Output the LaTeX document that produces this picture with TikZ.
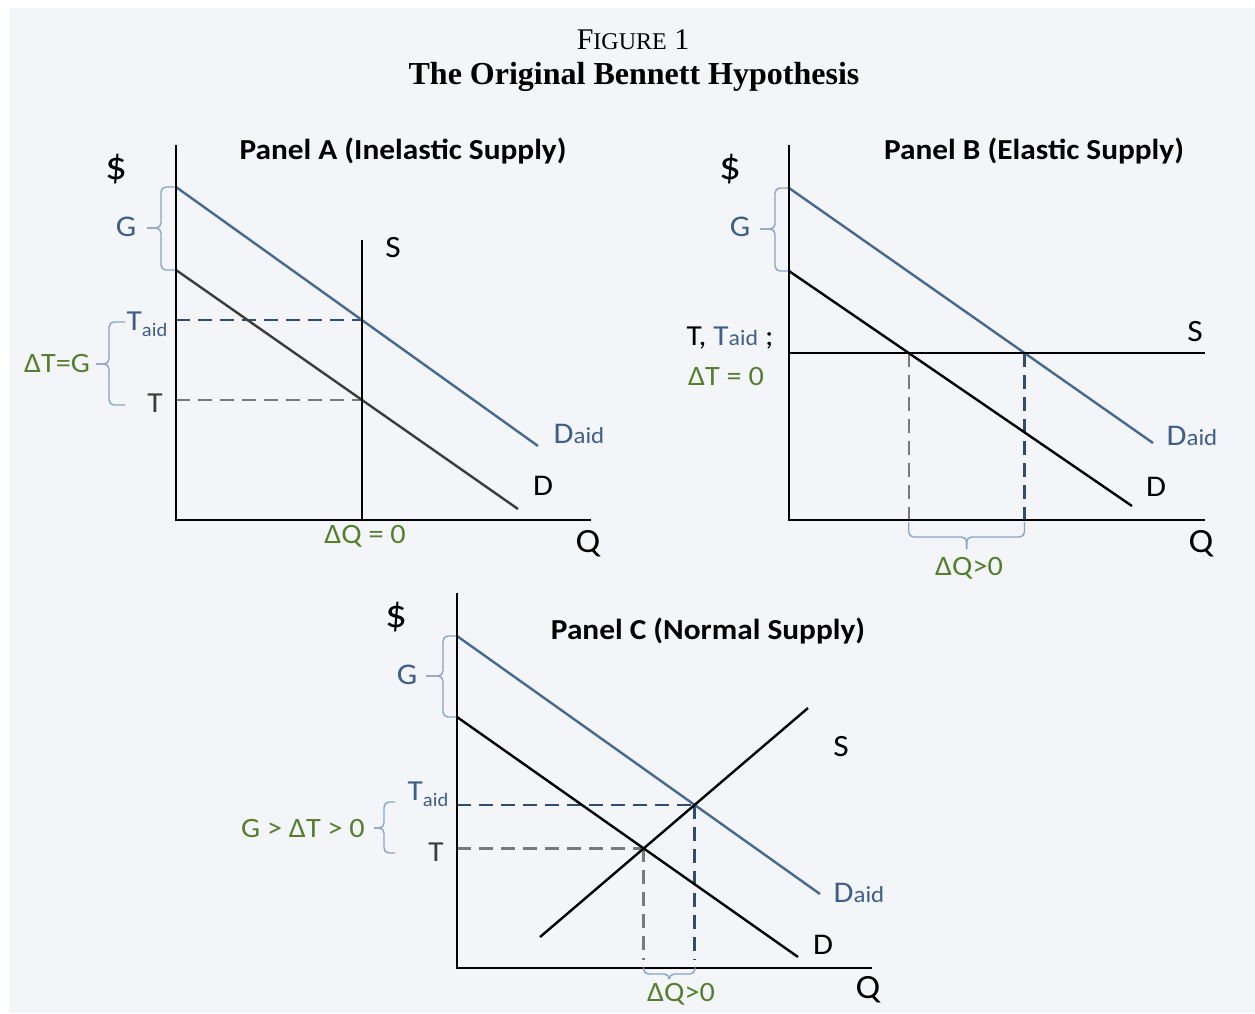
\documentclass[tikz,border=0pt]{standalone}
\usepackage{fontspec}
\setmainfont{Liberation Serif}
\newfontfamily\carl[FakeStretch=1.08]{Carlito}
\usetikzlibrary{calc}
\definecolor{bgcol}{HTML}{F3F5F8}
\definecolor{aidline}{HTML}{46698F}
\definecolor{aiddash}{HTML}{2F4D70}
\definecolor{lblue}{HTML}{3E5F87}
\definecolor{bracecol}{HTML}{8AA4C4}
\definecolor{grn}{HTML}{557F2F}
\definecolor{dgray}{HTML}{3C3C3C}
\definecolor{tgray}{HTML}{7A7A7A}
\newcommand\fsz[1]{\fontsize{#1}{#1}\selectfont}
% vertical brace: end x, body x, tip x, y1, ymid, y2
\newcommand\vbrace[6]{%
  \draw[bracestyle] (#1,#4) -- (#2,#4) -- (#2,#5) -- (#3,#5);
  \draw[bracestyle] (#1,#6) -- (#2,#6) -- (#2,#5) -- (#3,#5);}
% horizontal brace: end y, body y, tip y, x1, xmid, x2
\newcommand\hbrace[6]{%
  \draw[bracestyle] (#4,#1) -- (#4,#2) -- (#5,#2) -- (#5,#3);
  \draw[bracestyle] (#6,#1) -- (#6,#2) -- (#5,#2) -- (#5,#3);}
\begin{document}
\begin{tikzpicture}[x=1pt,y=-1pt,
  axisline/.style={line width=2.8pt,black},
  dline/.style={line width=2.4pt,black},
  aline/.style={line width=2.4pt,aidline},
  sline/.style={line width=2.4pt,black},
  tdash/.style={line width=2.4pt,tgray,dash pattern=on 14pt off 8pt},
  tadash/.style={line width=2.4pt,aiddash,dash pattern=on 14pt off 8pt},
  bracestyle/.style={line width=1.4pt,bracecol,rounded corners=5pt},
  lbl/.style={font=\carl\fsz{29},inner sep=0pt},
  slbl/.style={font=\carl\fsz{31},inner sep=0pt},
  biglbl/.style={font=\carl\fsz{34},inner sep=0pt},
  dollar/.style={font=\carl\fsz{40},inner sep=0pt},
  ptitle/.style={font=\carl\bfseries\fsz{29},inner sep=0pt},
  glbl/.style={font=\carl\fsz{28},inner sep=0pt,text=grn},
]
\useasboundingbox (0,0) rectangle (1255,1013);
\fill[white] (0,0) rectangle (1255,1013);
\fill[bgcol] (9,8) rectangle (1255,1013);

% Title
\node[inner sep=0pt] (fig) at (633,40) {\fsz{30}F\fsz{24}IGURE\fsz{30} 1};
\node[inner sep=0pt,font=\bfseries\fsz{32}] (title) at (634,77) {The Original Bennett Hypothesis};

% ================= Panel A =================
\coordinate (Ao) at (176,520);
\coordinate (Ay) at (176,145);
\coordinate (Ax) at (591,520);
\coordinate (Aa1) at (176,187);
\coordinate (Aa2) at (538,446);
\coordinate (Ad1) at (176,270);
\coordinate (Ad2) at (518,509);
\coordinate (As1) at (362,240);
\coordinate (As2) at (362,520);
\coordinate (Aia) at (intersection of Aa1--Aa2 and As1--As2);
\coordinate (Aid) at (intersection of Ad1--Ad2 and As1--As2);
\draw[tadash] (Ao |- Aia) -- (Aia);
\draw[tdash] (Ao |- Aid) -- (Aid);
\draw[line width=2.4pt,dgray] (Ad1) -- (Ad2);
\draw[aline] (Aa1) -- (Aa2);
\draw[sline] (As1) -- (As2);
\draw[axisline] (Ay) -- (Ao) -- (Ax);
\vbrace{175}{161}{147}{187}{228}{270}
\vbrace{125}{109}{96}{322}{364}{405}
\node[dollar] (Adol) at (116,169) {\$};
\node[ptitle] (Apt) at (403,151) {Panel A (Inelastic Supply)};
\node[lbl,text=lblue,font=\carl\fsz{30}] (AG) at (126,227) {G};
\node[slbl] (AS) at (393,248) {S};
\node[lbl,text=lblue] (ATa) at (147,324) {T\raisebox{-6pt}{\fsz{19}aid}};
\node[glbl] (AdT) at (57,364) {ΔT=G};
\node[lbl,text=dgray] (AT) at (155,403) {T};
\node[lbl,text=lblue] (ADa) at (579,434) {{\fsz{30}D}{\fsz{23}aid}};
\node[lbl,font=\carl\fsz{30}] (AD) at (543,486) {D};
\node[glbl] (AdQ) at (365,536) {ΔQ = 0};
\node[biglbl] (AQ) at (588,544) {Q};

% ================= Panel B =================
\coordinate (Bo) at (789,520);
\coordinate (By) at (789,145);
\coordinate (Bx) at (1205,520);
\coordinate (Ba1) at (789,188);
\coordinate (Ba2) at (1153,443);
\coordinate (Bd1) at (789,271);
\coordinate (Bd2) at (1132,506);
\coordinate (Bs1) at (789,353);
\coordinate (Bs2) at (1205,353);
\coordinate (Bia) at (intersection of Ba1--Ba2 and Bs1--Bs2);
\coordinate (Bid) at (intersection of Bd1--Bd2 and Bs1--Bs2);
\draw[tdash] (Bid) -- (Bid |- Bo);
\draw[tadash] (Bia) -- (Bia |- Bo);
\draw[dline] (Bd1) -- (Bd2);
\draw[aline] (Ba1) -- (Ba2);
\draw[sline] (Bs1) -- (Bs2);
\draw[axisline] (By) -- (Bo) -- (Bx);
\vbrace{788}{775}{760}{188}{229}{271}
\hbrace{522}{537}{549}{908.7}{966.6}{1024.5}
\node[dollar] (Bdol) at (730,169) {\$};
\node[ptitle] (Bpt) at (1034,151) {Panel B (Elastic Supply)};
\node[lbl,text=lblue,font=\carl\fsz{30}] (BG) at (740,227) {G};
\node[lbl] (BT) at (730,338) {T, \textcolor{lblue}{T{\fsz{22}aid}} ;};
\node[glbl] (BdT) at (726,377) {ΔT = 0};
\node[slbl] (BS) at (1195,332) {S};
\node[lbl,text=lblue] (BDa) at (1192,436) {{\fsz{30}D}{\fsz{23}aid}};
\node[lbl,font=\carl\fsz{30}] (BD) at (1156,487) {D};
\node[biglbl] (BQ) at (1201,544) {Q};
\node[glbl] (BdQ) at (969,568) {ΔQ>0};

% ================= Panel C =================
\coordinate (Co) at (457,968);
\coordinate (Cy) at (457,593);
\coordinate (Cx) at (872,968);
\coordinate (Ca1) at (457,636);
\coordinate (Ca2) at (820,894);
\coordinate (Cd1) at (457,717);
\coordinate (Cd2) at (798,957);
\coordinate (Cs1) at (540,937);
\coordinate (Cs2) at (808,708);
\coordinate (Cia) at (intersection of Ca1--Ca2 and Cs1--Cs2);
\coordinate (Cid) at (intersection of Cd1--Cd2 and Cs1--Cs2);
\draw[tadash] (Co |- Cia) -- (Cia);
\draw[tdash] (Co |- Cid) -- (Cid);
\draw[tdash] (Cid) -- (Cid |- 0,960);
\draw[tadash] (Cia) -- (Cia |- 0,960);
\draw[dline] (Cd1) -- (Cd2);
\draw[aline] (Ca1) -- (Ca2);
\draw[sline] (Cs1) -- (Cs2);
\draw[axisline] (Cy) -- (Co) -- (Cx);
\vbrace{456}{443}{426}{636}{676}{717}
\vbrace{395}{384}{374}{802}{828}{853}
\begin{scope}[rounded corners=3pt]
\hbrace{970}{974}{979}{643.6}{669.3}{695}
\end{scope}
\node[dollar] (Cdol) at (396,617) {\$};
\node[ptitle] (Cpt) at (708,631) {Panel C (Normal Supply)};
\node[lbl,text=lblue,font=\carl\fsz{30}] (CG) at (407,675) {G};
\node[lbl,text=lblue] (CTa) at (428,794) {T\raisebox{-6pt}{\fsz{19}aid}};
\node[lbl,text=dgray] (CT) at (436,852) {T};
\node[glbl] (CdT) at (303,828) {G > ΔT > 0};
\node[slbl] (CS) at (841,747) {S};
\node[lbl,text=lblue] (CDa) at (859,893) {{\fsz{30}D}{\fsz{23}aid}};
\node[lbl,font=\carl\fsz{30}] (CD) at (823,945) {D};
\node[biglbl] (CQ) at (868,990) {Q};
\node[glbl] (CdQ) at (681,994) {ΔQ>0};
\end{tikzpicture}
\end{document}
